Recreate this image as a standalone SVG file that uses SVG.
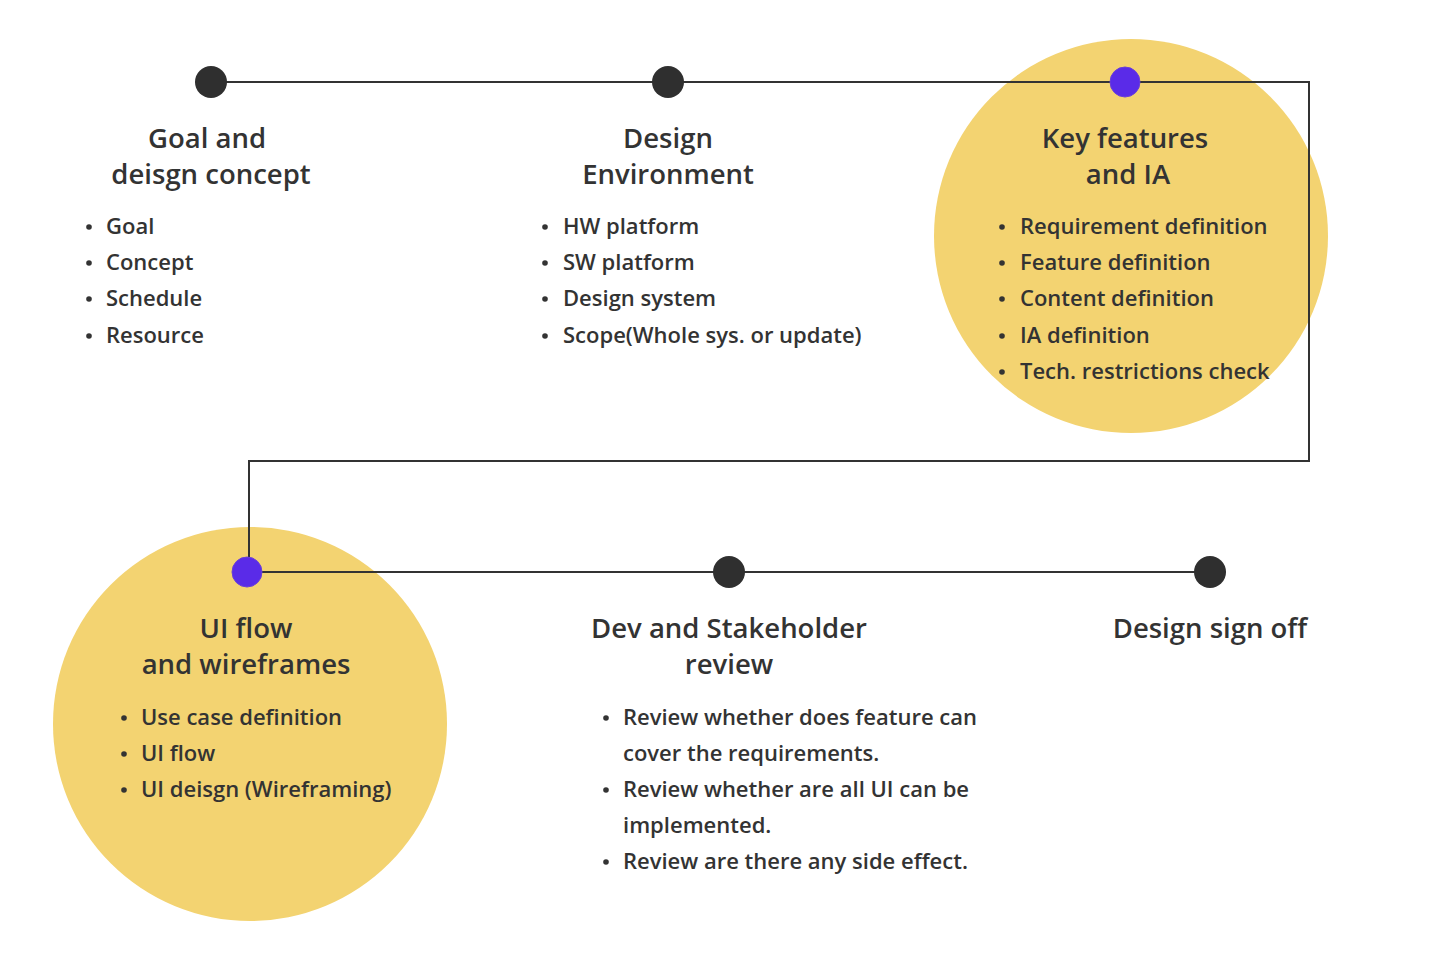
<svg xmlns="http://www.w3.org/2000/svg" width="1456" height="958" viewBox="0 0 1456 958">
<style>
.t{font-family:"Open Sans","Noto Sans",sans-serif;font-weight:600;font-size:27.5px;fill:#333333;text-anchor:middle}
.b{font-family:"Open Sans","Noto Sans",sans-serif;font-weight:600;font-size:22px;fill:#333333}
.bg{fill:#f3d371}
.dot{fill:#2f2f2f}
.pdot{fill:#5a2be8;stroke:#6a3fd8;stroke-width:1}
.ln{fill:none;stroke:#333333;stroke-width:2}
.bl{fill:#333333}
</style>
<defs>
<circle id="bul" class="bl" r="2.8"/>
</defs>
<rect width="1456" height="958" fill="#ffffff"/>
<circle class="bg" cx="1131" cy="236" r="197"/>
<circle class="bg" cx="250" cy="724" r="197"/>
<g id="connectors">
<path class="ln" d="M211 82 H1309 V461 H249 V572"/>
<path class="ln" d="M247 572 H1210"/>
</g>
<g id="n1">
<circle class="dot" cx="211" cy="82" r="16"/>
<text class="t" x="207" y="148">Goal and</text>
<text class="t" x="211" y="184">deisgn concept</text>
<use href="#bul" x="89" y="227"/><text class="b" x="106" y="234">Goal</text>
<use href="#bul" x="89" y="263"/><text class="b" x="106" y="270">Concept</text>
<use href="#bul" x="89" y="299"/><text class="b" x="106" y="306">Schedule</text>
<use href="#bul" x="89" y="336"/><text class="b" x="106" y="343">Resource</text>
</g>
<g id="n2">
<circle class="dot" cx="668" cy="82" r="16"/>
<text class="t" x="668" y="148">Design</text>
<text class="t" x="668" y="184">Environment</text>
<use href="#bul" x="545" y="227"/><text class="b" x="563" y="234">HW platform</text>
<use href="#bul" x="545" y="263"/><text class="b" x="563" y="270">SW platform</text>
<use href="#bul" x="545" y="299"/><text class="b" x="563" y="306">Design system</text>
<use href="#bul" x="545" y="336"/><text class="b" x="563" y="343">Scope(Whole sys. or update)</text>
</g>
<g id="n3">
<circle class="pdot" cx="1125" cy="82" r="15"/>
<text class="t" x="1125" y="148">Key features</text>
<text class="t" x="1128" y="184">and IA</text>
<use href="#bul" x="1002" y="227"/><text class="b" x="1020" y="234">Requirement definition</text>
<use href="#bul" x="1002" y="263"/><text class="b" x="1020" y="270">Feature definition</text>
<use href="#bul" x="1002" y="299"/><text class="b" x="1020" y="306">Content definition</text>
<use href="#bul" x="1002" y="336"/><text class="b" x="1020" y="343">IA definition</text>
<use href="#bul" x="1002" y="372"/><text class="b" x="1020" y="379">Tech. restrictions check</text>
</g>
<g id="n4">
<circle class="pdot" cx="247" cy="572" r="15"/>
<text class="t" x="246" y="638">UI flow</text>
<text class="t" x="246" y="674">and wireframes</text>
<use href="#bul" x="124" y="718"/><text class="b" x="141" y="725">Use case definition</text>
<use href="#bul" x="124" y="754"/><text class="b" x="141" y="761">UI flow</text>
<use href="#bul" x="124" y="790"/><text class="b" x="141" y="797">UI deisgn (Wireframing)</text>
</g>
<g id="n5">
<circle class="dot" cx="729" cy="572" r="16"/>
<text class="t" x="729" y="638">Dev and Stakeholder</text>
<text class="t" x="729" y="674">review</text>
<use href="#bul" x="606" y="718"/><text class="b" x="623" y="725">Review whether does feature can</text>
<text class="b" x="623" y="761">cover the requirements.</text>
<use href="#bul" x="606" y="790"/><text class="b" x="623" y="797">Review whether are all UI can be</text>
<text class="b" x="623" y="833">implemented.</text>
<use href="#bul" x="606" y="862"/><text class="b" x="623" y="869">Review are there any side effect.</text>
</g>
<g id="n6">
<circle class="dot" cx="1210" cy="572" r="16"/>
<text class="t" x="1210" y="638">Design sign off</text>
</g>
</svg>
